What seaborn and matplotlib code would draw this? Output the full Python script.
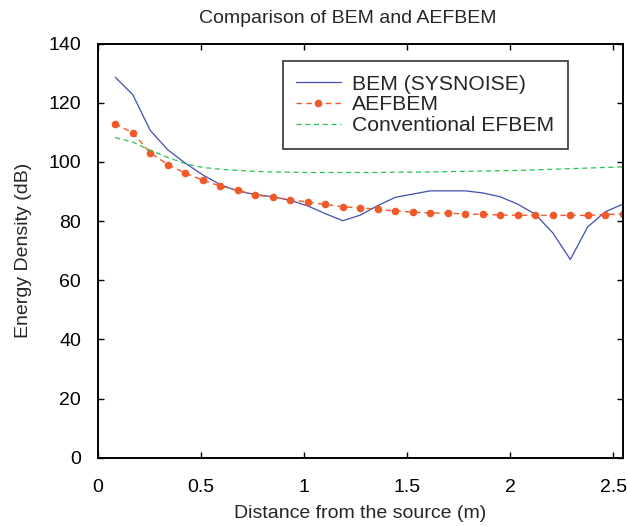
import numpy as np
import pandas as pd
import seaborn as sns
import matplotlib.pyplot as plt

# distance from the source (m)
distance = [0.085, 0.170, 0.254, 0.339, 0.424, 0.509, 0.594, 0.679, 0.763, 0.848,
            0.933, 1.018, 1.103, 1.188, 1.273, 1.357, 1.442, 1.527, 1.612, 1.697,
            1.782, 1.866, 1.951, 2.036, 2.121, 2.206, 2.291, 2.375, 2.460, 2.545]

bem = [128.6, 122.7, 110.7, 104.1, 99.6, 95.6, 92.3, 90.1, 89.0, 88.2,
       87.0, 85.1, 82.5, 80.1, 82.0, 85.2, 88.0, 89.1, 90.2, 90.2,
       90.2, 89.5, 88.2, 85.7, 82.3, 76.0, 67.0, 78.0, 83.1, 85.7]

aefbem = [112.9, 109.8, 103.1, 99.1, 96.2, 93.8, 91.8, 90.4, 88.8, 88.1,
          87.2, 86.4, 85.6, 84.8, 84.5, 83.9, 83.4, 83.0, 82.7, 82.7,
          82.3, 82.3, 82.0, 82.0, 81.9, 81.9, 81.9, 81.9, 82.2, 82.4]

efbem = [108.2, 106.7, 103.9, 101.5, 99.4, 98.1, 97.5, 97.1, 96.8, 96.6,
         96.5, 96.4, 96.4, 96.4, 96.4, 96.4, 96.5, 96.5, 96.6, 96.7,
         96.8, 96.9, 97.0, 97.1, 97.3, 97.5, 97.7, 97.9, 98.1, 98.3]

df = pd.DataFrame({"x": distance, "bem": bem, "aefbem": aefbem, "efbem": efbem})

sns.set_theme(style="ticks")
plt.rcParams['font.family'] = ['Liberation Sans', 'DejaVu Sans']
plt.rcParams.update({
    "xtick.direction": "in", "ytick.direction": "in",
    "xtick.top": True, "ytick.right": True,
    "xtick.major.size": 4, "ytick.major.size": 4,
    "xtick.major.width": 1.0, "ytick.major.width": 1.0,
    "axes.linewidth": 1.4, "axes.edgecolor": "black",
})

fig = plt.figure(figsize=(6.28, 5.26), dpi=100)
ax = fig.add_axes([0.1556, 0.1298, 0.836, 0.7875])

sns.lineplot(data=df, x="x", y="bem", ax=ax, color="#3f4fb0", linewidth=0.9,
             label="BEM (SYSNOISE)")
sns.lineplot(data=df, x="x", y="aefbem", ax=ax, color="#f05a28", linewidth=1.0,
             linestyle=(0, (4, 3)), marker="o", markersize=5.5, markeredgewidth=0,
             label="AEFBEM")
sns.lineplot(data=df, x="x", y="efbem", ax=ax, color="#26c44e", linewidth=0.9,
             linestyle=(0, (4, 3)), label="Conventional EFBEM")

ax.set_xlim(0, 2.545)
ax.set_ylim(0, 140)
ax.set_xticks([0, 0.5, 1, 1.5, 2, 2.5])
ax.set_xticklabels(["0", "0.5", "1", "1.5", "2", "2.5"])
ax.set_yticks(range(0, 141, 20))
ax.tick_params(labelsize=14, colors="black")
ax.tick_params(axis="x", pad=15)
ax.tick_params(axis="y", pad=12)
for s in ax.spines.values():
    s.set_visible(True)

ax.set_title("Comparison of BEM and AEFBEM", fontsize=14, pad=15, x=0.477)
ax.set_xlabel("Distance from the source (m)", fontsize=14, labelpad=7)
ax.set_ylabel("Energy Density (dB)", fontsize=14, labelpad=12)

leg = ax.legend(loc="upper left", bbox_to_anchor=(0.352, 0.958), fontsize=15.2,
                frameon=True, fancybox=False, handlelength=2.1, labelspacing=0.08,
                borderpad=0.65, handletextpad=0.55, borderaxespad=0)
leg.get_frame().set_edgecolor("black")
leg.get_frame().set_linewidth(1.2)

fig.savefig("out.png", dpi=100)
